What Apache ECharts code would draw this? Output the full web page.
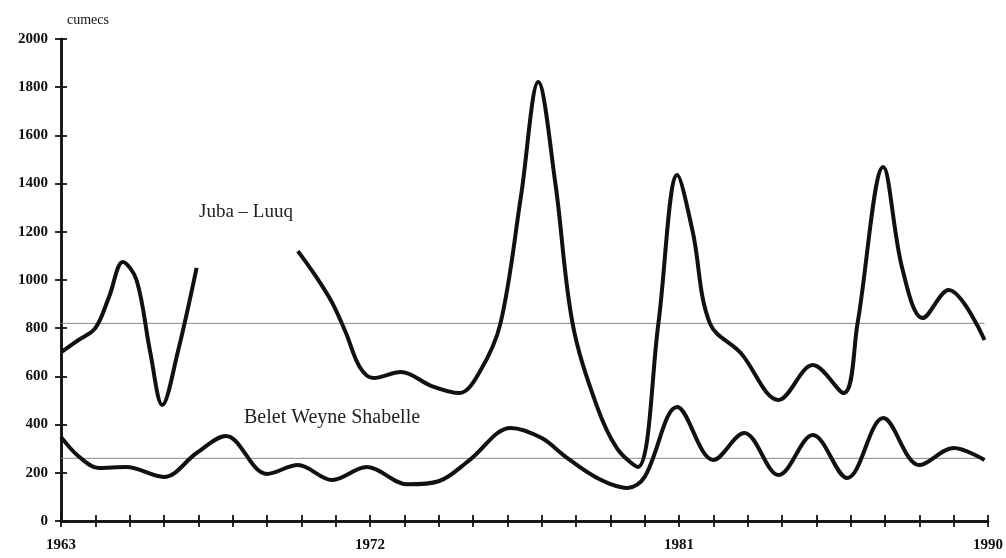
<!DOCTYPE html>
<html>
<head>
<meta charset="utf-8">
<script src="https://cdn.jsdelivr.net/npm/echarts@6/dist/echarts.min.js"></script>
<style>
  html, body { margin: 0; padding: 0; background: #fff; }
  #chart { width: 1006px; height: 558px; }
</style>
</head>
<body>
<div id="chart"></div>
<script>
// Annual river discharge (cumecs), 1963–1990
const jubaYears1 = [1963, 1963.5, 1964, 1964.4, 1964.8, 1965.2, 1965.6, 1965.95, 1966.4, 1966.95];
const jubaFlow1  = [700, 750, 800, 930, 1075, 1000, 700, 481, 700, 1050];
const jubaYears2 = [1969.9, 1970.4, 1970.9, 1971.3, 1971.7, 1972.1, 1972.9, 1973.8, 1974.6, 1975.2, 1975.8, 1976.4, 1976.9, 1977.4, 1977.9, 1978.6, 1979.2, 1979.8, 1980.4, 1980.95, 1981.4, 1981.9, 1982.8, 1983.9, 1984.9, 1985.8, 1986.2, 1986.95, 1987.5, 1988.1, 1988.85, 1989.9];
const jubaFlow2  = [1120, 1020, 905, 780, 639, 593, 618, 560, 531, 620, 820, 1350, 1822, 1400, 820, 480, 300, 224, 820, 1436, 1200, 820, 697, 502, 647, 531, 820, 1469, 1050, 842, 958, 751];
const shabYears  = [1963, 1963.5, 1964.1, 1964.9, 1966.0, 1966.95, 1967.8, 1969.0, 1969.9, 1970.9, 1971.9, 1973.1, 1974.0, 1974.9, 1976.1, 1977.0, 1977.7, 1978.6, 1979.5, 1980.0, 1980.95, 1982.0, 1982.9, 1983.9, 1984.9, 1985.9, 1986.95, 1988.0, 1989.0, 1989.9];
const shabFlow   = [349, 270, 220, 224, 183, 282, 353, 195, 232, 170, 224, 152, 165, 253, 386, 344, 266, 180, 137, 183, 473, 253, 365, 191, 357, 178, 427, 232, 303, 253];
// Long-term means
const meanYears  = [1963, 1989.9];
const jubaMean   = [820, 820];
const shabMean   = [260, 260];
const yTicks     = [0, 200, 400, 600, 800, 1000, 1200, 1400, 1600, 1800, 2000];
const xLabels    = [1963, 1972, 1981, 1990];

const pairs = (xs, ys) => xs.map((x, i) => [x, ys[i]]);
const serif = '"Liberation Serif", "DejaVu Serif", serif';

const chart = echarts.init(document.getElementById('chart'));

const baseX = {
  type: 'value', min: 1963, max: 1990, interval: 1,
  splitLine: { show: false },
  axisLine: { show: true, onZero: false, lineStyle: { color: '#111', width: 2.5 } },
};
const baseY = {
  type: 'value', min: 0, max: 2000, interval: 200,
  splitLine: { show: false },
  axisLine: { show: true, onZero: false, lineStyle: { color: '#111', width: 2.5 } },
};

chart.setOption({
  animation: false,
  backgroundColor: '#fff',
  grid: { left: 61, right: 18, top: 39, bottom: 37 },
  xAxis: [
    Object.assign({}, baseX, {
      axisTick: { show: true, length: 6, lineStyle: { color: '#111', width: 1.8 } },
      axisLabel: {
        color: '#111', fontFamily: serif, fontWeight: 'bold', fontSize: 15, margin: 17,
        formatter: v => xLabels.includes(Math.round(v)) && Math.abs(v - Math.round(v)) < 1e-6 ? String(Math.round(v)) : ''
      }
    }),
    Object.assign({}, baseX, {
      position: 'bottom',
      axisTick: { show: true, inside: true, length: 6, lineStyle: { color: '#111', width: 1.8 } },
      axisLabel: { show: false }
    })
  ],
  yAxis: [
    Object.assign({}, baseY, {
      name: 'cumecs',
      nameLocation: 'end',
      nameGap: 12,
      nameTextStyle: { color: '#111', fontFamily: serif, fontSize: 14, align: 'left', padding: [0, 0, 0, 6] },
      axisTick: { show: true, length: 6, lineStyle: { color: '#111', width: 1.8 } },
      axisLabel: {
        color: '#111', fontFamily: serif, fontWeight: 'bold', fontSize: 15, margin: 13,
        formatter: v => yTicks.includes(v) ? String(v) : ''
      }
    }),
    Object.assign({}, baseY, {
      position: 'left',
      axisTick: { show: true, inside: true, length: 6, lineStyle: { color: '#111', width: 1.8 } },
      axisLabel: { show: false }
    })
  ],
  graphic: [
    { type: 'text', left: 199, top: 203, style: { text: 'Juba – Luuq', fill: '#222', font: '19px ' + serif } },
    { type: 'text', left: 244, top: 408, style: { text: 'Belet Weyne Shabelle', fill: '#222', font: '20px ' + serif } }
  ],
  series: [
    { type: 'line', data: pairs(meanYears, jubaMean), symbol: 'none', silent: true,
      lineStyle: { color: '#888', width: 1 } },
    { type: 'line', data: pairs(meanYears, shabMean), symbol: 'none', silent: true,
      lineStyle: { color: '#888', width: 1 } },
    { type: 'line', name: 'Juba – Luuq', data: pairs(jubaYears1, jubaFlow1), symbol: 'none', smooth: 0.35,
      lineStyle: { color: '#111', width: 4 } },
    { type: 'line', name: 'Juba – Luuq', data: pairs(jubaYears2, jubaFlow2), symbol: 'none', smooth: 0.35,
      lineStyle: { color: '#111', width: 4 } },
    { type: 'line', name: 'Belet Weyne Shabelle', data: pairs(shabYears, shabFlow), symbol: 'none', smooth: 0.35,
      lineStyle: { color: '#111', width: 4 } }
  ]
});
</script>
</body>
</html>
